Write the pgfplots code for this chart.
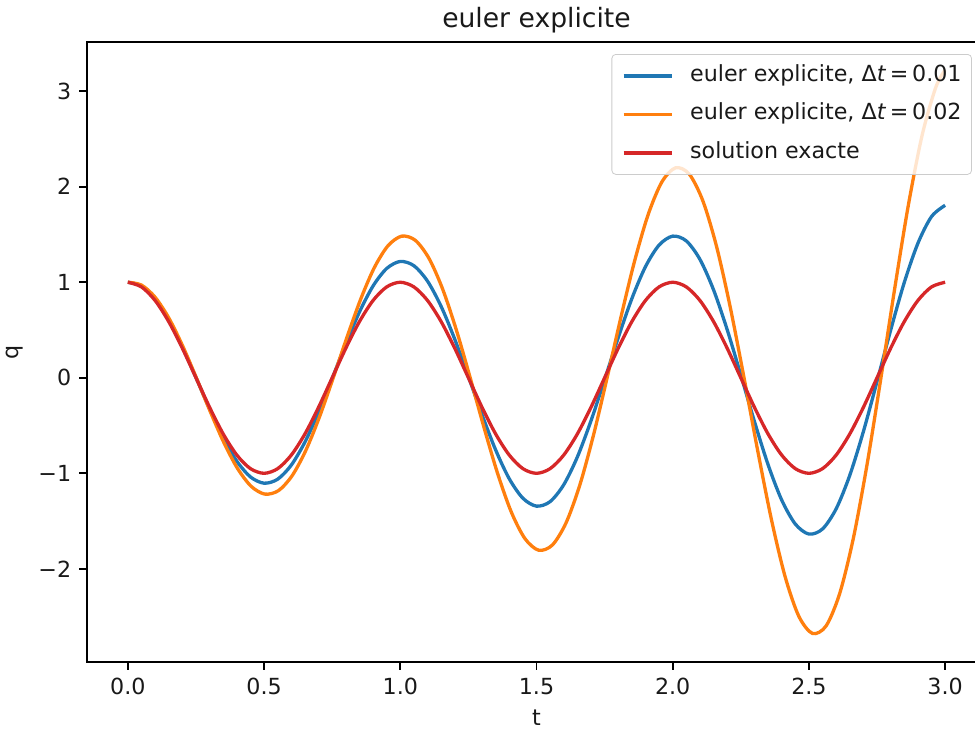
\documentclass[border=0pt]{standalone}
\usepackage{fontspec}
\setmainfont{DejaVu Sans}
\usepackage{pgfplots}
\pgfplotsset{compat=1.18}
\definecolor{tabblue}{HTML}{1F77B4}
\definecolor{taborange}{HTML}{FF7F0E}
\definecolor{tabred}{HTML}{D62728}
\begin{document}
\begin{tikzpicture}
\begin{axis}[
  at={(43.5pt,34.5pt)}, anchor=south west,
  scale only axis, width=449.5pt, height=310pt,
  xmin=-0.15, xmax=3.15, ymin=-2.975, ymax=3.515,
  xtick={0,0.5,1,1.5,2,2.5,3},
  xticklabels={0.0,0.5,1.0,1.5,2.0,2.5,3.0},
  ytick={-2,-1,0,1,2,3},
  yticklabels={−2,−1,0,1,2,3},
  tick align=outside, tick pos=left,
  major tick length=3.9pt,
  every tick/.style={black, line width=0.9pt},
  axis line style={line width=0.9pt, black},
  tick label style={font=\fontsize{11.1pt}{13pt}\selectfont, text=black!90},
  xticklabel style={yshift=-0.5pt},
  yticklabel style={xshift=-0.5pt},
  xlabel={t}, ylabel={q},
  label style={font=\fontsize{11.1pt}{13pt}\selectfont, text=black!90},
  xlabel style={at={(axis description cs:0.5,0)}, anchor=center, yshift=-28pt},
  ylabel style={at={(axis description cs:0,0.5)}, anchor=center, yshift=36pt},
  title={euler explicite},
  title style={font=\fontsize{13.3pt}{15pt}\selectfont, text=black!90, at={(axis description cs:0.5,1)}, anchor=center, yshift=5pt},
  legend cell align=left,
  legend image code/.code={\draw[#1] (0pt,0pt) -- (24pt,0pt); \path (32.5pt,0pt);},
  legend style={at={(0.9844,0.9806)}, anchor=north east,
    draw=black!20, fill=white, fill opacity=0.8, text opacity=1,
    rounded corners=2pt, font=\fontsize{11.1pt}{13pt}\selectfont,
    inner xsep=5pt, inner ysep=5.5pt, row sep=8.75pt,
    nodes={inner sep=0pt, text height=8pt, text depth=2.5pt, text=black!90}},
  every axis plot/.append style={line width=1.65pt},
]
\addplot[tabblue, smooth] coordinates {
(0,1.0000)(0.05,0.9606)(0.10,0.8256)(0.15,0.6065)(0.20,0.3231)(0.25,0.0022)(0.30,-0.3253)(0.35,-0.6273)(0.40,-0.8733)(0.45,-1.0380)
(0.50,-1.1035)(0.55,-1.0615)(0.60,-0.9138)(0.65,-0.6731)(0.70,-0.3610)(0.75,-0.0072)(0.80,0.3544)(0.85,0.6882)(0.90,0.9607)(0.95,1.1439)
(1.00,1.2177)(1.05,1.1730)(1.10,1.0115)(1.15,0.7469)(1.20,0.4033)(1.25,0.0132)(1.30,-0.3860)(1.35,-0.7552)(1.40,-1.0570)(1.45,-1.2606)
(1.50,-1.3437)(1.55,-1.2962)(1.60,-1.1195)(1.65,-0.8288)(1.70,-0.4506)(1.75,-0.0204)(1.80,0.4204)(1.85,0.8284)(1.90,1.1629)(1.95,1.3892)
(2.00,1.4827)(2.05,1.4322)(2.10,1.2390)(2.15,0.9198)(2.20,0.5033)(2.25,0.0290)(2.30,-0.4576)(2.35,-0.9089)(2.40,-1.2793)(2.45,-1.5308)
(2.50,-1.6361)(2.55,-1.5825)(2.60,-1.3713)(2.65,-1.0206)(2.70,-0.5621)(2.75,-0.0391)(2.80,0.4982)(2.85,0.9971)(2.90,1.4075)(2.95,1.6871)
(3.00,1.8053)};
\addlegendentry{euler explicite, Δ\textit{t}\,=\,0.01}
\addplot[taborange, smooth] coordinates {
(0,1.0000)(0.0503,0.9700)(0.1005,0.8415)(0.1508,0.6236)(0.2010,0.3343)(0.2513,0)(0.3016,-0.3477)(0.3518,-0.6747)(0.4021,-0.9470)(0.4524,-1.1355)
(0.5026,-1.2176)(0.5529,-1.1811)(0.6031,-1.0246)(0.6534,-0.7592)(0.7037,-0.4071)(0.7539,0)(0.8042,0.4234)(0.8545,0.8215)(0.9047,1.1531)(0.9550,1.3825)
(1.0052,1.4825)(1.0555,1.4381)(1.1058,1.2475)(1.1560,0.9245)(1.2063,0.4956)(1.2566,0)(1.3068,-0.5155)(1.3571,-1.0002)(1.4073,-1.4040)(1.4576,-1.6834)
(1.5079,-1.8051)(1.5581,-1.7510)(1.6084,-1.5190)(1.6587,-1.1256)(1.7089,-0.6035)(1.7592,0)(1.8094,0.6277)(1.8597,1.2178)(1.9100,1.7094)(1.9602,2.0497)
(2.0105,2.1979)(2.0607,2.1320)(2.1110,1.8495)(2.1613,1.3705)(2.2115,0.7348)(2.2618,0)(2.3121,-0.7643)(2.3623,-1.4828)(2.4126,-2.0814)(2.4628,-2.4957)
(2.5131,-2.6762)(2.5634,-2.5959)(2.6136,-2.2520)(2.6639,-1.6688)(2.7142,-0.8947)(2.7644,0)(2.8147,0.9306)(2.8649,1.8055)(2.9152,2.5343)(2.9655,3.0387)
(3.0000,3.2227)};
\addlegendentry{euler explicite, Δ\textit{t}\,=\,0.02}
\addplot[tabred, smooth] coordinates {
(0,1)(0.05,0.9511)(0.10,0.8090)(0.15,0.5878)(0.20,0.3090)(0.25,0)(0.30,-0.3090)(0.35,-0.5878)(0.40,-0.8090)(0.45,-0.9511)
(0.50,-1)(0.55,-0.9511)(0.60,-0.8090)(0.65,-0.5878)(0.70,-0.3090)(0.75,0)(0.80,0.3090)(0.85,0.5878)(0.90,0.8090)(0.95,0.9511)
(1.00,1)(1.05,0.9511)(1.10,0.8090)(1.15,0.5878)(1.20,0.3090)(1.25,0)(1.30,-0.3090)(1.35,-0.5878)(1.40,-0.8090)(1.45,-0.9511)
(1.50,-1)(1.55,-0.9511)(1.60,-0.8090)(1.65,-0.5878)(1.70,-0.3090)(1.75,0)(1.80,0.3090)(1.85,0.5878)(1.90,0.8090)(1.95,0.9511)
(2.00,1)(2.05,0.9511)(2.10,0.8090)(2.15,0.5878)(2.20,0.3090)(2.25,0)(2.30,-0.3090)(2.35,-0.5878)(2.40,-0.8090)(2.45,-0.9511)
(2.50,-1)(2.55,-0.9511)(2.60,-0.8090)(2.65,-0.5878)(2.70,-0.3090)(2.75,0)(2.80,0.3090)(2.85,0.5878)(2.90,0.8090)(2.95,0.9511)
(3.00,1)};
\addlegendentry{solution exacte}
\end{axis}
\pgfresetboundingbox
\useasboundingbox (0,0) rectangle (487.5pt,365.5pt);
\end{tikzpicture}
\end{document}
